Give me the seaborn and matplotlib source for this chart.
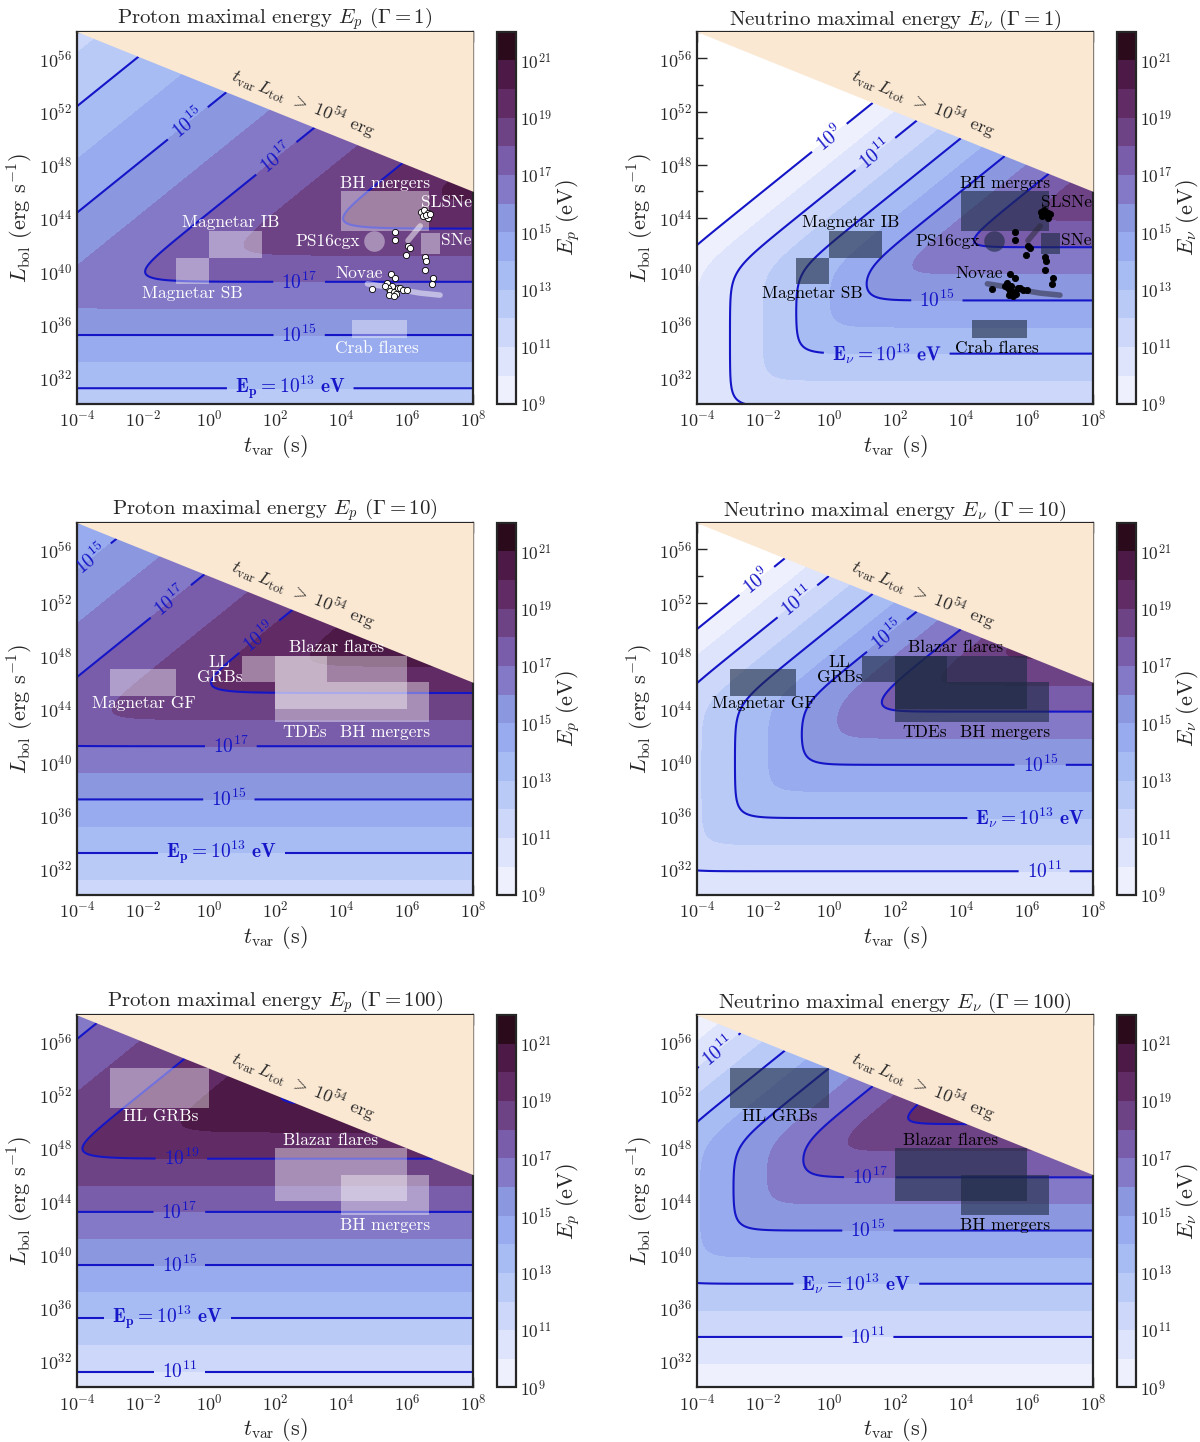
import numpy as np
import matplotlib
matplotlib.use("Agg")
import matplotlib.pyplot as plt
from matplotlib.colors import ListedColormap
from matplotlib.patches import Rectangle
from matplotlib.ticker import NullFormatter
import seaborn as sns

# ---------------- values (log10 units) ----------------
# t in s, L in erg/s, E in eV
gamma_values = [1, 10, 100]

# proton: horizontal branch  logE = 0.5 logL + a ; diagonal branch logE = b - 0.25 logL + 0.5 logt
proton_low = [-2.6, -3.6, -4.6]
proton_high = [28.1, 30.6, 33.05]
# neutrino: horizontal logE = 0.5 logL + a ; diagonal logE = b - 0.5 logL + logt ; vertical logE = logt + c
neutrino_low = [-3.9, -4.9, -5.9]
neutrino_high = [34.0, 38.0, 42.0]
neutrino_vert = [14.0, 15.85, 17.9]
smooth_k = 0.8

energy_levels = list(range(9, 23))
band_colors = ["#eef1fd", "#dde4fb", "#ccd7f9", "#bacaf7", "#a8bcf4", "#98abee",
               "#8b98e0", "#8379c7", "#7a5daa", "#6e4386", "#612c66", "#4d1a47",
               "#2b0a1c"]

proton_lines = [[13, 15, 17, 19], [13, 15, 17, 19], [11, 13, 15, 17, 19, 21]]
proton_labelled = [[13, 15, 17], [13, 15, 17, 19], [11, 13, 15, 17, 19]]
proton_label_pos = [
    [(2.46, 31.2), (2.73, 35.2), (-0.67, 51.2), (2.73, 39.2), (2.0, 48.6)],
    [(0.37, 33.2), (0.6, 37.2), (-3.57, 55.2), (0.66, 41.2), (-1.13, 52.0), (1.53, 49.4)],
    [(-0.9, 31.2), (-1.25, 35.2), (-0.9, 39.2), (-0.9, 43.2), (-0.84, 47.2)],
]
neutrino_lines = [[9, 11, 13, 15, 17], [9, 11, 13, 15, 17], [11, 13, 15, 17, 19]]
neutrino_labelled = [[9, 11, 13, 15], [9, 11, 13, 15], [11, 13, 15, 17]]
neutrino_label_pos = [
    [(0.02, 50.0), (1.41, 48.8), (1.75, 33.85), (3.27, 37.8)],
    [(-2.18, 53.6), (-0.96, 52.1), (6.52, 31.8), (6.1, 35.8), (1.76, 49.5), (6.4, 39.8)],
    [(-3.34, 55.3), (1.18, 33.8), (0.83, 37.8), (1.18, 41.8), (1.24, 45.8)],
]

# source regions: name, log t0, log t1, log L0, log L1
boxes_g1 = [("BH mergers", 4.0, 6.68, 43.0, 46.0),
            ("Magnetar IB", 0.0, 1.6, 41.0, 43.0),
            ("Magnetar SB", -1.0, 0.0, 39.0, 41.0),
            ("SNe", 6.43, 7.0, 41.3, 42.9),
            ("Crab flares", 4.33, 6.0, 35.0, 36.3)]
boxes_g10 = [("Magnetar GF", -3.0, -1.0, 45.0, 47.0),
             ("LL GRBs", 1.0, 3.57, 46.0, 48.0),
             ("Blazar flares", 2.0, 6.0, 44.0, 48.0),
             ("TDEs", 2.0, 4.0, 43.0, 46.0),
             ("BH mergers", 4.0, 6.68, 43.0, 46.0)]
boxes_g100 = [("HL GRBs", -3.0, 0.0, 51.0, 54.0),
              ("Blazar flares", 2.0, 6.0, 44.0, 48.0),
              ("BH mergers", 4.0, 6.68, 43.0, 46.0)]
all_boxes = [boxes_g1, boxes_g10, boxes_g100]

labels_g1 = [("BH mergers", 5.34, 46.6), ("SLSNe", 7.2, 45.2), ("Magnetar IB", 0.67, 43.65),
             ("PS16cgx", 3.6, 42.25), ("SNe", 7.5, 42.3), ("Novae", 4.56, 39.8),
             ("Magnetar SB", -0.5, 38.3), ("Crab flares", 5.1, 34.2)]
labels_g10 = [("Magnetar GF", -1.96, 44.4), ("LL\nGRBs", 0.32, 46.95),
              ("Blazar flares", 3.85, 48.6), ("TDEs", 2.9, 42.25), ("BH mergers", 5.34, 42.25)]
labels_g100 = [("HL GRBs", -1.48, 50.4), ("Blazar flares", 3.68, 48.6),
               ("BH mergers", 5.34, 42.2)]
all_labels = [labels_g1, labels_g10, labels_g100]

# individual transients (Gamma = 1 panels only)
ps16cgx_t, ps16cgx_L = 5.0, 42.25
dots_t = [6.42, 6.52, 6.63, 6.47, 6.65, 6.57, 6.70, 5.64, 5.64, 6.04, 6.09, 5.97, 6.54,
          6.57, 6.54, 6.79, 6.77, 5.5, 5.64, 5.4, 5.53, 5.43, 5.48, 5.61, 5.74, 5.79,
          5.89, 6.0, 5.66, 5.46, 5.59, 4.94, 5.32]
dots_L = [44.48, 44.6, 44.4, 44.15, 43.97, 44.23, 44.28, 42.97, 42.35, 41.9, 41.72, 41.22,
          41.1, 40.8, 40.1, 39.5, 39.0, 39.8, 39.5, 39.1, 38.9, 38.75, 38.5, 38.4, 38.7,
          38.75, 38.6, 38.55, 38.25, 38.2, 38.1, 38.63, 38.9]
novae_trail_t = [4.8, 5.3, 5.8, 6.4, 7.0]
novae_trail_L = [39.05, 38.85, 38.6, 38.35, 38.2]
slsne_trail_t = [6.03, 6.4]
slsne_trail_L = [42.3, 43.4]

energy_budget = 54.0   # t_var L_tot limit (log10 erg)

# ---------------- style ----------------
sns.set_theme(style="ticks")
plt.rcParams.update({
    "font.family": "serif",
    "font.serif": ["cmr10", "DejaVu Serif"],
    "mathtext.fontset": "cm",
    "axes.unicode_minus": False,
    "axes.formatter.use_mathtext": True,
})

line_color = "#1515c8"
peach = "#fae8d3"
cmap = ListedColormap(band_colors)


def smooth_min(values, k):
    stack = np.stack(values)
    return -k * np.log10(np.sum(10.0 ** (-stack / k), axis=0))


log_t = np.linspace(-4, 8, 481)
log_L = np.linspace(30, 58, 561)
T, L = np.meshgrid(log_t, log_L)


def proton_field(i):
    low = 0.5 * L + proton_low[i]
    high = proton_high[i] - 0.25 * L + 0.5 * T
    return smooth_min([low, high], smooth_k)


def neutrino_field(i):
    low = 0.5 * L + neutrino_low[i]
    high = neutrino_high[i] - 0.5 * L + T
    vert = T + neutrino_vert[i]
    return smooth_min([low, high, vert], smooth_k)


fig = plt.figure(figsize=(12, 14.42), dpi=100)
col_left = [0.0642, 0.5808]
cbar_left = [0.4142, 0.9308]
row_bottom = [0.7197, 0.3792, 0.0378]
ax_w, ax_h = 0.33, 0.2583


def draw_panel(ax, cax, Z, lines, labelled, pos, kind, i):
    # scales and limits first, so that inline labels are cut in the right screen space
    ax.set_xscale("log")
    ax.set_yscale("log")
    ax.set_xlim(1e-4, 1e8)
    ax.set_ylim(1e30, 1e58)

    Zm = np.ma.masked_where(T + L > energy_budget + 0.02, Z)
    cf = ax.contourf(10.0 ** T, 10.0 ** L, Zm, levels=energy_levels, cmap=cmap, zorder=1)
    cs = ax.contour(10.0 ** T, 10.0 ** L, Zm, levels=lines, colors=line_color,
                    linewidths=1.5, zorder=2)
    ax.set_xlim(1e-4, 1e8)
    ax.set_ylim(1e30, 1e58)
    sym = "p" if kind == "proton" else r"\nu"
    fmt = {lev: r"$\mathbf{10^{%d}}$" % lev for lev in lines}
    fmt[13] = r"$\mathbf{E_%s = 10^{13}\ eV}$" % sym
    ax.clabel(cs, levels=labelled, manual=[(10.0 ** a, 10.0 ** b) for a, b in pos],
              fmt=fmt, inline=True, inline_spacing=8, fontsize=14)

    # forbidden region
    tt = np.logspace(-4, 8, 60)
    ax.fill_between(tt, 10.0 ** energy_budget / tt, 1e60, color=peach, lw=0, zorder=3)
    ax.text(10 ** 2.85, 10 ** 52.7, r"$t_{\rm var}\,L_{\rm tot}\ >\ 10^{54}$ erg",
            rotation=-22, ha="center", va="center", fontsize=13, zorder=7,
            rotation_mode="anchor")

    if kind == "proton":
        face, alpha, txt = "white", 0.4, "white"
        trail_c, trail_a, dot_face = "white", 0.5, "white"
    else:
        face, alpha, txt = "#1c2940", 0.6, "black"
        trail_c, trail_a, dot_face = "#2a2a3a", 0.55, "black"

    for name, t0, t1, L0, L1 in all_boxes[i]:
        ax.add_patch(Rectangle((10 ** t0, 10 ** L0), 10 ** t1 - 10 ** t0, 10 ** L1 - 10 ** L0,
                               facecolor=face, alpha=alpha, lw=0, zorder=4))
    for name, x, y in all_labels[i]:
        ax.text(10 ** x, 10 ** y, name, color=txt, fontsize=12.5, ha="center", va="center",
                zorder=8, clip_on=True, linespacing=1.0)

    if i == 0:
        ax.plot(10.0 ** np.array(novae_trail_t), 10.0 ** np.array(novae_trail_L),
                color=trail_c, alpha=trail_a, lw=4, solid_capstyle="round", zorder=5)
        ax.plot(10.0 ** np.array(slsne_trail_t), 10.0 ** np.array(slsne_trail_L),
                color=trail_c, alpha=trail_a, lw=4, solid_capstyle="round", zorder=5)
        ax.scatter([10 ** ps16cgx_t], [10 ** ps16cgx_L], s=220, color=face, alpha=alpha,
                   lw=0, zorder=5)
        sns.scatterplot(x=10.0 ** np.array(dots_t), y=10.0 ** np.array(dots_L), ax=ax,
                        s=20, color=dot_face, edgecolor="black", linewidth=0.6,
                        zorder=6, legend=False)

    ax.set_xlim(1e-4, 1e8)
    ax.set_ylim(1e30, 1e58)
    ax.set_xticks([10.0 ** k for k in range(-4, 9, 2)])
    ax.set_xticks([10.0 ** k for k in range(-3, 8, 2)], minor=True)
    ax.set_yticks([10.0 ** k for k in range(32, 57, 4)])
    ax.set_yticks([10.0 ** k for k in range(34, 57, 4)], minor=True)
    ax.xaxis.set_minor_formatter(NullFormatter())
    ax.yaxis.set_minor_formatter(NullFormatter())
    ax.tick_params(which="both", direction="in", top=True, right=True, labelsize=13)
    ax.tick_params(which="major", length=7, width=1)
    ax.tick_params(which="minor", length=4, width=1)
    for sp in ax.spines.values():
        sp.set_linewidth(1.6)
    ax.set_xlabel(r"$t_{\rm var}$ (s)", fontsize=16, labelpad=2)
    ax.set_ylabel(r"$L_{\rm bol}$ (erg s$^{-1}$)", fontsize=16, labelpad=2)
    what = "Proton" if kind == "proton" else "Neutrino"
    ax.set_title(r"%s maximal energy $E_%s$ ($\Gamma = %d$)" % (what, sym, gamma_values[i]),
                 fontsize=15, pad=5)

    cb = fig.colorbar(cf, cax=cax, ticks=list(range(9, 22, 2)))
    cb.set_ticklabels([r"$10^{%d}$" % k for k in range(9, 22, 2)])
    cb.set_label(r"$E_%s$ (eV)" % sym, fontsize=16, labelpad=1)
    cb.outline.set_linewidth(1.6)
    cax.tick_params(direction="in", length=5, labelsize=12.5, pad=3)


for i in range(3):
    for j, kind in enumerate(["proton", "neutrino"]):
        ax = fig.add_axes([col_left[j], row_bottom[i], ax_w, ax_h])
        cax = fig.add_axes([cbar_left[j], row_bottom[i], 0.0158, ax_h])
        if kind == "proton":
            draw_panel(ax, cax, proton_field(i), proton_lines[i], proton_labelled[i],
                       proton_label_pos[i], kind, i)
        else:
            draw_panel(ax, cax, neutrino_field(i), neutrino_lines[i], neutrino_labelled[i],
                       neutrino_label_pos[i], kind, i)

fig.savefig("out.png", dpi=100)
